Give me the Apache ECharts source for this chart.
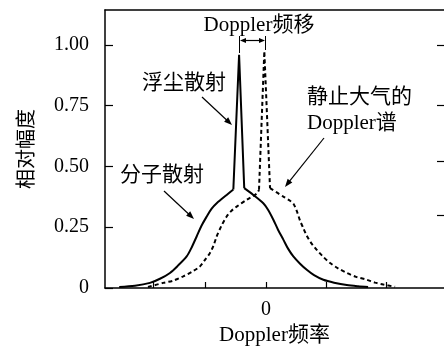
<!DOCTYPE html>
<html>
<head>
<meta charset="utf-8">
<script src="https://cdn.jsdelivr.net/npm/echarts@6/dist/echarts.min.js"></script>
<style>
html,body{margin:0;padding:0;background:#fff;}
#chart{width:444px;height:351px;}
</style>
</head>
<body>
<div id="chart"></div>
<script>
// ---- data ----
const molecularLeft = [[-2.425,0.004],[-2.165,0.009],[-1.917,0.021],[-1.752,0.038],[-1.587,0.062],[-1.455,0.092],[-1.311,0.130],[-1.223,0.170],[-1.146,0.212],[-1.066,0.256],[-0.980,0.294],[-0.901,0.326],[-0.815,0.349],[-0.650,0.383],[-0.540,0.405]];
const aerosolPeak   = [[-0.540,0.405],[-0.445,0.96],[-0.42,0.96],[-0.36,0.411]];
const molecularRight= [[-0.36,0.411],[-0.21,0.383],[-0.045,0.349],[0.033,0.322],[0.121,0.281],[0.198,0.240],[0.286,0.199],[0.364,0.162],[0.451,0.130],[0.562,0.100],[0.673,0.075],[0.793,0.053],[0.947,0.034],[1.124,0.022],[1.334,0.012],[1.52,0.007],[1.686,0.004]];
const restLeft      = [[-1.95,0.004],[-1.698,0.021],[-1.537,0.030],[-1.367,0.048],[-1.207,0.069],[-1.091,0.089],[-1.008,0.116],[-0.926,0.144],[-0.868,0.174],[-0.815,0.212],[-0.736,0.256],[-0.650,0.294],[-0.570,0.318],[-0.485,0.335],[-0.319,0.363],[-0.154,0.388],[-0.116,0.404]];
const restPeak      = [[-0.116,0.404],[-0.028,0.975],[-0.005,0.975],[0.066,0.411]];
const restRight     = [[0.066,0.411],[0.286,0.376],[0.397,0.359],[0.455,0.346],[0.512,0.314],[0.562,0.277],[0.620,0.244],[0.673,0.215],[0.744,0.186],[0.838,0.157],[0.942,0.129],[1.058,0.103],[1.190,0.081],[1.334,0.062],[1.488,0.046],[1.664,0.034],[1.802,0.022],[1.939,0.014],[2.132,0.005]];

const yTickValues = [0, 0.25, 0.5, 0.75, 1.0];
const yTickLabels = ['0', '0.25', '0.50', '0.75', '1.00'];
const rightTickValues = [0.30, 0.52, 0.75, 1.0];
const xTickValues = [-1.87, -1, 0, 1, 1.98];
const xLabelValues = [0];
const xTickLabels = ['0'];

const xName = 'Doppler频率';
const yName = '相对幅度';
const noteShift = 'Doppler频移';
const noteAerosol = '浮尘散射';
const noteMolecular = '分子散射';
const noteRest1 = '静止大气的';
const noteRest2 = 'Doppler谱';

// ---- chart ----
const FONT = '"Liberation Serif", "Noto Sans CJK SC", serif';
const chart = echarts.init(document.getElementById('chart'), null, {renderer: 'canvas'});

function arrow(x1, y1, x2, y2, head, w) {
  head = head || 8; w = w || 3;
  const dx = x2 - x1, dy = y2 - y1, L = Math.sqrt(dx*dx + dy*dy);
  const ux = dx / L, uy = dy / L;
  const bx = x2 - ux * head, by = y2 - uy * head;
  return [
    {type: 'line', shape: {x1: x1, y1: y1, x2: x2 - ux * head * 0.6, y2: y2 - uy * head * 0.6}, style: {stroke: '#000', lineWidth: 1.2}},
    {type: 'polygon', shape: {points: [[x2, y2], [bx - uy * w, by + ux * w], [bx + uy * w, by - ux * w]]}, style: {fill: '#000'}}
  ];
}
function txt(x, y, s, align) {
  return {type: 'text', x: x, y: y, style: {text: s, font: '21px ' + FONT, fill: '#000', align: align || 'center', verticalAlign: 'middle'}};
}

const graphics = [].concat(
  [txt(259, 25, noteShift)],
  [{type: 'line', shape: {x1: 239.5, y1: 36, x2: 239.5, y2: 53}, style: {stroke: '#000', lineWidth: 1}},
   {type: 'line', shape: {x1: 265.5, y1: 36, x2: 265.5, y2: 50}, style: {stroke: '#000', lineWidth: 1}}],
  arrow(252, 40.5, 240, 40.5, 6, 2.5),
  arrow(252, 40.5, 265, 40.5, 6, 2.5),
  [txt(184, 83, noteAerosol)],
  arrow(202, 97, 232, 125),
  [txt(162, 175, noteMolecular)],
  arrow(164, 191, 194, 219),
  [txt(307, 97, noteRest1, 'left'), txt(307, 123, noteRest2, 'left')],
  arrow(324, 138, 285, 187)
);

function lineSeries(data, dashed, smooth) {
  return {
    type: 'line', data: data, showSymbol: false, symbol: 'none', smooth: smooth,
    xAxisIndex: 0, yAxisIndex: 0, silent: true,
    lineStyle: {color: '#000', width: 2, type: dashed ? [4, 3] : 'solid'}
  };
}

chart.setOption({
  animation: false,
  backgroundColor: '#fff',
  grid: {left: 105, right: 0, top: 10, bottom: 63, outerBoundsMode: 'none', containLabel: false},
  xAxis: [{
    type: 'value', position: 'bottom', min: -2.66, max: 2.94,
    axisLine: {show: true, onZero: false, lineStyle: {color: '#000', width: 1.5}},
    axisTick: {show: true, inside: true, length: 6, customValues: xTickValues, lineStyle: {color: '#000', width: 1.2}},
    axisLabel: {show: true, customValues: xLabelValues, margin: 12, color: '#000', fontSize: 20, fontFamily: FONT,
      formatter: v => xTickLabels[xLabelValues.findIndex(t => Math.abs(t - v) < 1e-6)] || ''},
    splitLine: {show: false},
    name: xName, nameLocation: 'middle', nameGap: 36,
    nameTextStyle: {color: '#000', fontSize: 21, fontFamily: FONT}
  }, {
    type: 'value', position: 'top', min: -2.66, max: 2.94,
    axisLine: {show: true, onZero: false, lineStyle: {color: '#000', width: 1.5}},
    axisTick: {show: false}, axisLabel: {show: false}, splitLine: {show: false}
  }],
  yAxis: [{
    type: 'value', position: 'left', min: 0, max: 1.144,
    axisLine: {show: true, onZero: false, lineStyle: {color: '#000', width: 1.5}},
    axisTick: {show: true, inside: true, length: 8, customValues: yTickValues, lineStyle: {color: '#000', width: 1.2}},
    axisLabel: {show: true, customValues: yTickValues, margin: 16, color: '#000', fontSize: 20, fontFamily: FONT,
      formatter: v => yTickLabels[yTickValues.findIndex(t => Math.abs(t - v) < 1e-6)] || ''},
    splitLine: {show: false},
    name: yName, nameLocation: 'middle', nameGap: 67, nameRotate: 90,
    nameTextStyle: {color: '#000', fontSize: 20, fontFamily: FONT}
  }, {
    type: 'value', position: 'right', min: 0, max: 1.144,
    axisLine: {show: false, onZero: false},
    axisTick: {show: true, inside: true, length: 7, customValues: rightTickValues, lineStyle: {color: '#000', width: 1.2}},
    axisLabel: {show: false}, splitLine: {show: false}
  }],
  series: [
    lineSeries(molecularLeft, false, 0.3),
    lineSeries(aerosolPeak, false, false),
    lineSeries(molecularRight, false, 0.3),
    lineSeries(restLeft, true, 0.3),
    lineSeries(restPeak, true, false),
    lineSeries(restRight, true, 0.3)
  ],
  graphic: graphics
});
</script>
</body>
</html>
